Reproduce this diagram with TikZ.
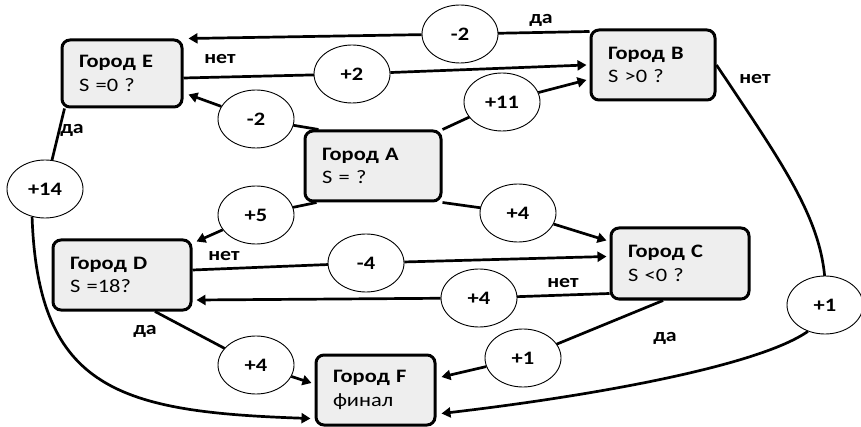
\documentclass[tikz,border=0pt]{standalone}
\usepackage{fontspec}
\setmainfont{Carlito}[FakeStretch=1.18]
\usetikzlibrary{arrows.meta,shapes.geometric}
\pgfdeclarelayer{roads}
\pgfsetlayers{roads,main}
\begin{document}
\begin{tikzpicture}[x=1pt,y=-1pt,
  city/.style={draw, line width=3pt, rounded corners=8pt, fill=gray!13,
    align=left, inner ysep=0pt, inner xsep=17pt,
    font=\fontsize{19}{23.5}\selectfont},
  cost/.style={draw, ellipse, line width=0.9pt, fill=white,
    minimum width=76pt, minimum height=58pt, inner sep=0pt,
    font=\bfseries\fontsize{19}{22}\selectfont},
  link/.style={line width=2.7pt},
  arr/.style={link, -{Triangle[length=9pt,width=10pt]}},
  lbl/.style={font=\bfseries\fontsize{18.5}{20}\selectfont, inner sep=0pt}]
\useasboundingbox (0,0) rectangle (861,427);

% cities
\node[city, text width=86pt, minimum height=67pt] (E) at (122,73.5) {\textbf{Город E}\\S =0 ?};
\node[city, text width=90pt, minimum height=70pt] (B) at (653,65) {\textbf{Город B}\\S >0 ?};
\node[city, text width=102pt, minimum height=70pt] (A) at (373,166) {\textbf{Город A}\\S = ?};
\node[city, text width=104pt, minimum height=70pt] (D) at (122,275) {\textbf{Город D}\\S =18?};
\node[city, text width=104pt, minimum height=71pt] (C) at (680,263.5) {\textbf{Город C}\\S <0 ?};
\node[city, text width=85pt, minimum height=70pt] (F) at (375.5,390) {\textbf{Город F}\\финал};

% costs on the roads
\node[cost] (m1) at (460,34) {-2};
\node[cost] (m2) at (352,74) {+2};
\node[cost] (m3) at (256,119) {-2};
\node[cost] (m4) at (502,102) {+11};
\node[cost] (m5) at (45,189) {+14};
\node[cost] (m6) at (256,215) {+5};
\node[cost] (m7) at (518,213) {+4};
\node[cost] (m8) at (366,263) {-4};
\node[cost] (m9) at (479,298) {+4};
\node[cost] (m10) at (523,358) {+1};
\node[cost] (m11) at (825,305) {+1};
\node[cost] (m12) at (256,365) {+4};

% roads, drawn beneath the cities and the cost ovals
\begin{pgfonlayer}{roads}
\draw[link] ([yshift=-3pt]B.north west) -- (m1.center);
\draw[arr] (m1) -- ([xshift=5pt]E.north east);

\draw[link] ([yshift=-4.5pt]E.east) -- (m2.center);
\draw[arr] (m2) -- ([xshift=-3pt]B.west);

\draw[link] ([xshift=15pt]A.north west) -- (m3.center);
\draw[arr] (m3) -- ([xshift=5pt,yshift=-21pt]E.east);

\draw[link] (A.north east) -- (m4.center);
\draw[arr] (m4) -- ([xshift=-3pt,yshift=-15pt]B.west);

\draw[link] ([xshift=4pt]E.south west) -- (m5.center);
\draw[arr] (m5.245) .. controls (38,390) and (120,412) .. ([xshift=-4pt,yshift=8pt]F.south west);

\draw[link] ([xshift=13pt]A.south west) -- (m6.center);
\draw[arr] (m6) -- ([xshift=4pt,yshift=-3pt]D.north east);

\draw[link] (A.south east) -- (m7.center);
\draw[arr] (m7) -- ([xshift=-3pt,yshift=-14pt]C.north west);

\draw[link] ([yshift=5pt]D.east) -- (m8.center);
\draw[arr] (m8) -- ([xshift=-3pt,yshift=7pt]C.west);

\draw[link] ([yshift=7pt]C.south west) -- (m9.center);
\draw[arr] (m9) -- ([xshift=4pt,yshift=-25pt]D.east);

\draw[link] ([xshift=33pt]D.south) -- (m12.center);
\draw[arr] (m12) -- ([xshift=-3pt,yshift=7pt]F.west);

\draw[link] ([xshift=-17pt]C.south) -- (m10.center);
\draw[arr] (m10) -- ([xshift=5pt,yshift=13pt]F.east);

\draw[link] (B.east) .. controls (790,175) and (830,230) .. (m11.center);
\draw[arr] (m11.237) .. controls (760,365) and (600,395) .. ([xshift=5pt,yshift=13pt]F.south east);
\end{pgfonlayer}

% yes / no labels
\node[lbl] (l1) at (541,20) {да};
\node[lbl] (l2) at (220,59) {нет};
\node[lbl] (l3) at (755,79) {нет};
\node[lbl] (l4) at (72,130) {да};
\node[lbl] (l5) at (224,256) {нет};
\node[lbl] (l6) at (563,283) {нет};
\node[lbl] (l7) at (145,331) {да};
\node[lbl] (l8) at (665,338) {да};
\end{tikzpicture}
\end{document}
